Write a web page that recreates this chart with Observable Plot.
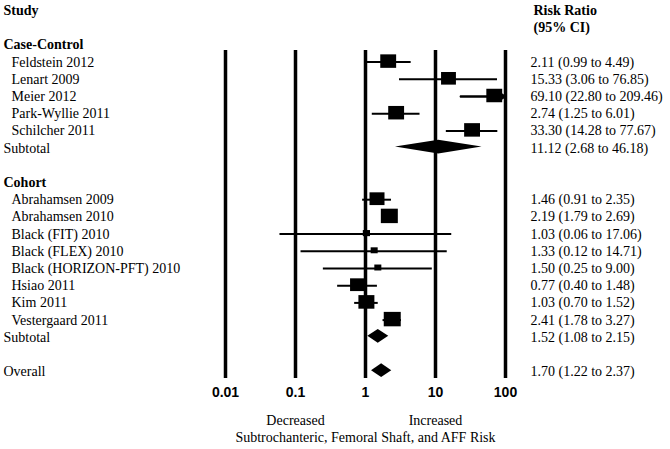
<!DOCTYPE html>
<html><head><meta charset="utf-8">
<script src="https://cdn.jsdelivr.net/npm/d3@7"></script>
<script src="https://cdn.jsdelivr.net/npm/@observablehq/plot@0.6"></script>
<style>body{margin:0;background:#fff}</style>
</head><body><div id="chart"></div>
<script>
// ---- Data ----
const ccStudies = ["Feldstein 2012", "Lenart 2009", "Meier 2012", "Park-Wyllie 2011", "Schilcher 2011"];
const ccRR = [2.11, 15.33, 69.10, 2.74, 33.30];
const ccLo = [0.99, 3.06, 22.80, 1.25, 14.28];
const ccHi = [4.49, 76.85, 209.46, 6.01, 77.67];
const ccWeight = [20.5, 18.0, 20.5, 20.5, 20.5];
const ccSubtotal = [11.12, 2.68, 46.18];

const coStudies = ["Abrahamsen 2009", "Abrahamsen 2010", "Black (FIT) 2010", "Black (FLEX) 2010",
  "Black (HORIZON-PFT) 2010", "Hsiao 2011", "Kim 2011", "Vestergaard 2011"];
const coRR = [1.46, 2.19, 1.03, 1.33, 1.50, 0.77, 1.03, 2.41];
const coLo = [0.91, 1.79, 0.06, 0.12, 0.25, 0.40, 0.70, 1.78];
const coHi = [2.35, 2.69, 17.06, 14.71, 9.00, 1.48, 1.52, 3.27];
const coWeight = [18.3, 23.5, 4.2, 4.0, 4.0, 18.3, 20.8, 23.5];
const coSubtotal = [1.52, 1.08, 2.15];

const overall = [1.70, 1.22, 2.37];

const ticks = [0.01, 0.1, 1, 10, 100];
const groupNames = ["Case-Control", "Cohort"];
const headerStudy = "Study";
const headerRR = ["Risk Ratio", "(95% CI)"];
const subtotalLabel = "Subtotal";
const overallLabel = "Overall";
const decreasedLabel = "Decreased";
const increasedLabel = "Increased";
const outcomeLabel = "Subtrochanteric, Femoral Shaft, and AFF Risk";

// ---- Build row table ----
const f = d3.format(".2f");
const ciText = (rr, lo, hi) => `${f(rr)} (${f(lo)} to ${f(hi)})`;
const labels = [];   // left column: kind = "header" | "study" | "total"
const values = [];   // right column
const studies = [];
const diamonds = [];
labels.push({row: 0, text: headerStudy, kind: "header"});
values.push({row: 0, text: headerRR[0], bold: true});
values.push({row: 1, text: headerRR[1], bold: true});

let row = 2;
const groups = [
  {name: groupNames[0], names: ccStudies, rr: ccRR, lo: ccLo, hi: ccHi, w: ccWeight, sub: ccSubtotal},
  {name: groupNames[1], names: coStudies, rr: coRR, lo: coLo, hi: coHi, w: coWeight, sub: coSubtotal}
];
for (const g of groups) {
  labels.push({row, text: g.name, kind: "header"});
  row++;
  g.names.forEach((n, i) => {
    labels.push({row, text: n, kind: "study"});
    values.push({row, text: ciText(g.rr[i], g.lo[i], g.hi[i]), bold: false});
    studies.push({row, rr: g.rr[i], lo: g.lo[i], hi: g.hi[i], w: g.w[i]});
    row++;
  });
  labels.push({row, text: subtotalLabel, kind: "total"});
  values.push({row, text: ciText(...g.sub), bold: false});
  diamonds.push({row, rr: g.sub[0], lo: g.sub[1], hi: g.sub[2], key: g.name});
  row += 2;
}
labels.push({row, text: overallLabel, kind: "total"});
values.push({row, text: ciText(...overall), bold: false});
diamonds.push({row, rr: overall[0], lo: overall[1], hi: overall[2], key: "overall"});
const lastRow = row;

// ---- Layout constants (in row units) ----
const xMin = ticks[0], xMax = ticks[ticks.length - 1];
const lineTop = 2.33, lineBottom = lastRow + 0.4;
const tickRow = lastRow + 1.2;
const dirRow = lastRow + 2.85;
const outcomeRow = lastRow + 3.85;
const diamondHalf = 0.4;

const diamondPts = diamonds.flatMap(d => [
  {key: d.key, x: d.lo, y1: d.row, y2: d.row},
  {key: d.key, x: d.rr, y1: d.row - diamondHalf, y2: d.row + diamondHalf},
  {key: d.key, x: d.hi, y1: d.row, y2: d.row}
]);

const rectSymbol = {
  draw(ctx, size) {
    const r = Math.sqrt(size / Math.PI);
    const w = 2 * r, h = 2 * r * 0.85;
    ctx.rect(-w / 2, -h / 2, w, h);
  }
};

const serif = "Liberation Serif, Times New Roman, serif";
const sans = "Liberation Sans, Arial, sans-serif";

const chart = Plot.plot({
  width: 670,
  height: 449,
  marginLeft: 225,
  marginRight: 165,
  marginTop: 10,
  marginBottom: 9,
  style: {fontFamily: serif, fontSize: "14px", background: "white", color: "black"},
  x: {type: "log", domain: [xMin, xMax], axis: null},
  y: {domain: [0, lastRow + 4], reverse: true, axis: null},
  r: {domain: [0, d3.max(studies, d => d.w)], range: [0, 8.5]},
  marks: [
    Plot.ruleX(ticks, {x: d => d, y1: lineTop, y2: lineBottom, strokeWidth: 3.5, stroke: "black"}),
    Plot.ruleY(studies, {y: "row", x1: "lo", x2: d => Math.min(d.hi, xMax), strokeWidth: 2, stroke: "black"}),
    Plot.arrow(studies.filter(d => d.hi > xMax), {x1: "lo", x2: () => xMax, y1: "row", y2: "row", headLength: 5, strokeWidth: 2, stroke: "black"}),
    Plot.dot(studies, {x: "rr", y: "row", r: "w", symbol: rectSymbol, fill: "black", stroke: null, dy: -1}),
    Plot.area(diamondPts, {x1: "x", y1: "y1", y2: "y2", z: "key", fill: "black", dy: -1}),
    Plot.text(labels.filter(d => d.kind === "header"), {frameAnchor: "left", y: "row", text: "text", textAnchor: "start", dx: -222, fontWeight: "bold"}),
    Plot.text(labels.filter(d => d.kind === "total"), {frameAnchor: "left", y: "row", text: "text", textAnchor: "start", dx: -222}),
    Plot.text(labels.filter(d => d.kind === "study"), {frameAnchor: "left", y: "row", text: "text", textAnchor: "start", dx: -214}),
    Plot.text(values.filter(d => d.bold), {frameAnchor: "right", y: "row", text: "text", textAnchor: "start", dx: 28, fontWeight: "bold"}),
    Plot.text(values.filter(d => !d.bold), {frameAnchor: "right", y: "row", text: "text", textAnchor: "start", dx: 25}),
    Plot.text(ticks, {x: d => d, y: () => tickRow, text: d => String(d), fontFamily: sans, fontWeight: "bold", fontSize: 14}),
    Plot.text([decreasedLabel], {x: () => ticks[1], y: () => dirRow, text: d => d}),
    Plot.text([increasedLabel], {x: () => ticks[3], y: () => dirRow, text: d => d}),
    Plot.text([outcomeLabel], {x: () => ticks[2], y: () => outcomeRow, text: d => d})
  ]
});
document.getElementById("chart").appendChild(chart);
</script>
</body></html>
